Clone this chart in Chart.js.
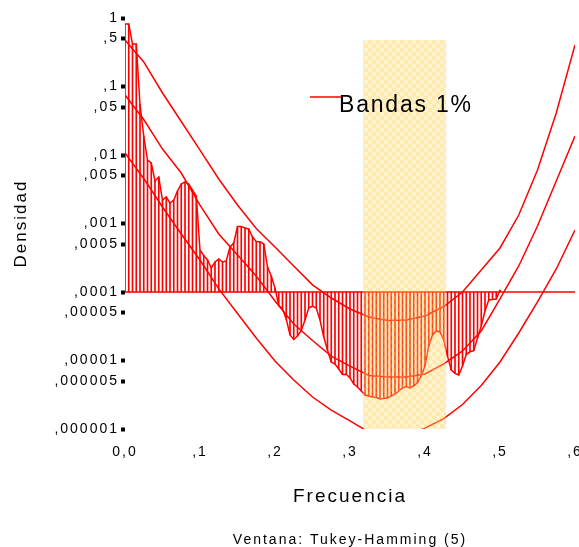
<!DOCTYPE html>
<html>
<head>
<meta charset="utf-8">
<script src="https://cdn.jsdelivr.net/npm/chart.js@4.4.1/dist/chart.umd.min.js"></script>
<style>
  html, body { margin: 0; padding: 0; background: #fff; }
  #wrap { width: 579px; height: 547px; position: relative; }
</style>
</head>
<body>
<div id="wrap"><canvas id="grafico"></canvas></div>
<script>
// Frecuencias del periodograma suavizado (paso 0,005)
const frecuencias = [
  0.000,0.005,0.010,0.015,0.020,0.025,0.030,0.035,0.040,0.045,
  0.050,0.055,0.060,0.065,0.070,0.075,0.080,0.085,0.090,0.095,
  0.100,0.105,0.110,0.115,0.120,0.125,0.130,0.135,0.140,0.145,
  0.150,0.155,0.160,0.165,0.170,0.175,0.180,0.185,0.190,0.195,
  0.200,0.205,0.210,0.215,0.220,0.225,0.230,0.235,0.240,0.245,
  0.250,0.255,0.260,0.265,0.270,0.275,0.280,0.285,0.290,0.295,
  0.300,0.305,0.310,0.315,0.320,0.325,0.330,0.335,0.340,0.345,
  0.350,0.355,0.360,0.365,0.370,0.375,0.380,0.385,0.390,0.395,
  0.400,0.405,0.410,0.415,0.420,0.425,0.430,0.435,0.440,0.445,
  0.450,0.455,0.460,0.465,0.470,0.475,0.480,0.485,0.490,0.495,
  0.500
];

// Densidad espectral estimada
const densidad = [
  8.17e-1, 8.17e-1, 4.17e-1, 4.17e-1, 5.5e-2, 1.89e-2, 8.45e-3, 7.64e-3, 4.17e-3, 4.77e-3,
  2.2e-3, 2.44e-3, 1.99e-3, 2.2e-3, 2.98e-3, 3.77e-3, 4.04e-3, 3.77e-3, 3.08e-3, 2.52e-3,
  4.1e-4, 3.41e-4, 2.93e-4, 2.24e-4, 2.74e-4, 3.03e-4, 2.74e-4, 2.84e-4, 4.54e-4, 5.19e-4,
  9.04e-4, 9.04e-4, 8.59e-4, 8.31e-4, 6.35e-4, 5.46e-4, 5.43e-4, 5.02e-4, 2.32e-4, 1.71e-4,
  1.14e-4, 6.35e-5, 5.65e-5, 4.03e-5, 2.36e-5, 2.03e-5, 2.28e-5, 2.74e-5, 3.9e-5, 5.84e-5,
  6.25e-5, 5.84e-5, 3.9e-5, 2.2e-5, 1.42e-5, 9.5e-6, 8.9e-6, 7.5e-6, 6.25e-6, 6.3e-6,
  5.56e-6, 4.54e-6, 4.1e-6, 3.59e-6, 3.13e-6, 3.03e-6, 2.93e-6, 2.88e-6, 2.74e-6, 2.79e-6,
  2.84e-6, 3.03e-6, 3.24e-6, 3.59e-6, 3.97e-6, 4.15e-6, 3.97e-6, 4.25e-6, 4.77e-6, 5.94e-6,
  8.3e-6, 1.63e-5, 2.36e-5, 2.7e-5, 2.61e-5, 1.99e-5, 1.16e-5, 7.27e-6, 6.5e-6, 6.14e-6,
  8.3e-6, 1.22e-5, 1.34e-5, 1.39e-5, 2.13e-5, 3.19e-5, 5.28e-5, 7.64e-5, 7.78e-5, 7.91e-5,
  1.07e-4
];

// Nivel de referencia desde el que se rayan las barras
const nivelBase = 1e-4;

// Frecuencias de las bandas de confianza (paso 0,025)
const frecBandas = [
  0.000,0.025,0.050,0.075,0.100,0.125,0.150,0.175,0.200,0.225,
  0.250,0.275,0.300,0.325,0.350,0.375,0.400,0.425,0.450,0.475,
  0.500,0.525,0.550,0.575,0.600
];
const bandaSuperior = [
  4.77e-1, 2.28e-1, 8.04e-2, 3.08e-2, 1.18e-2, 4.46e-3, 1.86e-3, 8.45e-4, 4.54e-4, 2.4e-4,
  1.27e-4, 8.17e-5, 5.65e-5, 4.32e-5, 3.84e-5, 3.9e-5, 4.47e-5, 6.14e-5, 1.0e-4, 2.09e-4,
  4.39e-4, 1.33e-3, 6.04e-3, 4.1e-2, 4.04e-1
];
const bandaCentral = [
  7.52e-2, 3.3e-2, 1.22e-2, 5.46e-3, 1.86e-3, 7.03e-4, 3.47e-4, 1.71e-4, 7.4e-5, 3.41e-5,
  1.96e-5, 1.16e-5, 8.3e-6, 6.04e-6, 5.74e-6, 5.74e-6, 6.35e-6, 8.9e-6, 1.38e-5, 2.7e-5,
  7.91e-5, 2.4e-4, 9.2e-4, 4.17e-3, 1.89e-2
];
const bandaInferior = [
  1.07e-2, 4.54e-3, 1.74e-3, 7.03e-4, 2.93e-4, 1.11e-4, 4.85e-5, 2.13e-5, 9.84e-6, 5.19e-6,
  2.93e-6, 1.89e-6, 1.31e-6, 9.04e-7, 7.9e-7, 8.17e-7, 1.03e-6, 1.42e-6, 2.28e-6, 4.31e-6,
  9.5e-6, 2.52e-5, 7.15e-5, 2.17e-4, 8.04e-4
];

// Intervalo de frecuencias resaltado y su altura
const zonaResaltada = [0.3173, 0.428];
const alturaZona = 0.477;

const yTicks = [1, 0.5, 0.1, 0.05, 0.01, 0.005, 0.001, 0.0005, 0.0001, 0.00005, 0.00001, 0.000005, 0.000001];
const yTickLabels = ['1', ',5', ',1', ',05', ',01', ',005', ',001', ',0005', ',0001', ',00005', ',00001', ',000005', ',000001'];
const xTickLabels = ['0,0', ',1', ',2', ',3', ',4', ',5', ',6'];

const ROJO = '#ff0000';
const FUENTE = "'Liberation Sans', Arial, sans-serif";

// Trama en damero amarilla semitransparente
function tramaAmarilla() {
  const c = document.createElement('canvas');
  c.width = 8; c.height = 8;
  const g = c.getContext('2d');
  g.fillStyle = 'rgba(255,218,100,0.32)';
  g.fillRect(0, 0, 8, 8);
  g.fillStyle = 'rgba(255,200,70,0.22)';
  g.fillRect(0, 0, 4, 4);
  g.fillRect(4, 4, 4, 4);
  return g.createPattern(c, 'repeat');
}

const espaciado = {
  id: 'espaciado',
  beforeLayout(chart) { chart.ctx.letterSpacing = '2px'; },
  beforeDraw(chart) { chart.ctx.letterSpacing = '2px'; }
};

// Leyenda de las bandas dibujada dentro del área del gráfico
const leyendaBandas = {
  id: 'leyendaBandas',
  afterDraw(chart) {
    const ctx = chart.ctx;
    const ds = chart.data.datasets.find(d => d.label === 'Bandas 1%');
    ctx.save();
    ctx.strokeStyle = ROJO;
    ctx.lineWidth = 1.5;
    ctx.beginPath();
    ctx.moveTo(310, 97);
    ctx.lineTo(343, 97);
    ctx.stroke();
    ctx.letterSpacing = '1.8px';
    ctx.font = '23px ' + FUENTE;
    ctx.fillStyle = '#000';
    ctx.textBaseline = 'alphabetic';
    ctx.fillText(ds.label, 339, 112);
    ctx.restore();
  }
};

const puntos = (xs, ys) => xs.map((x, i) => ({ x, y: ys[i] }));

const linea = (label, data, extra) => Object.assign({
  type: 'line', label, data,
  borderColor: ROJO, borderWidth: 1.5,
  pointRadius: 0, tension: 0, fill: false, order: 2
}, extra || {});

new Chart(document.getElementById('grafico'), {
  type: 'line',
  data: {
    datasets: [
      {
        type: 'line', label: 'Zona',
        data: [{ x: zonaResaltada[0], y: alturaZona }, { x: zonaResaltada[1], y: alturaZona }],
        borderWidth: 0, pointRadius: 0, fill: 'start',
        backgroundColor: tramaAmarilla(), order: 0
      },
      {
        type: 'bar', label: 'Rayado',
        data: frecuencias.map((x, i) => ({ x, y: [nivelBase, densidad[i]] })),
        backgroundColor: ROJO, borderWidth: 0, barThickness: 1, order: 3
      },
      linea('Densidad', puntos(frecuencias, densidad)),
      linea('Nivel', [{ x: 0, y: nivelBase }, { x: 0.6, y: nivelBase }]),
      linea('Bandas 1%', puntos(frecBandas, bandaSuperior)),
      linea('Central', puntos(frecBandas, bandaCentral)),
      linea('Inferior', puntos(frecBandas, bandaInferior))
    ]
  },
  options: {
    responsive: true,
    maintainAspectRatio: false,
    animation: false,
    layout: { padding: { top: 18, left: 0, right: 4, bottom: 0 } },
    plugins: {
      legend: { display: false },
      tooltip: { enabled: false },
      title: {
        display: true, position: 'bottom', fullSize: false,
        text: 'Ventana: Tukey-Hamming (5)',
        color: '#000',
        font: { family: FUENTE, size: 14, weight: 'normal', lineHeight: 1 },
        padding: { top: 0, bottom: 0 }
      }
    },
    scales: {
      x: {
        type: 'linear', min: 0, max: 0.6, offset: false,
        border: { display: false },
        grid: { display: false, offset: false, drawTicks: false },
        ticks: {
          stepSize: 0.1, autoSkip: false, maxRotation: 0, padding: 15,
          color: '#000', font: { family: FUENTE, size: 14 },
          callback: (v, i) => xTickLabels[i]
        },
        title: {
          display: true, text: 'Frecuencia', color: '#000',
          font: { family: FUENTE, size: 19 },
          padding: { top: 0, bottom: 25 }
        },
        afterFit(s) { s.height = 104; s.paddingLeft = 0; s.paddingRight = 0; }
      },
      y: {
        type: 'logarithmic', min: 1e-6, max: 1,
        border: { display: false },
        grid: {
          display: true, drawOnChartArea: false, drawTicks: true,
          tickLength: 4, tickWidth: 4, tickColor: '#000', color: '#000'
        },
        ticks: {
          autoSkip: false, padding: 2, color: '#000',
          font: { family: FUENTE, size: 14 },
          callback: (v, i) => yTickLabels[i]
        },
        afterBuildTicks(s) { s.ticks = yTicks.map(v => ({ value: v })); },
        title: {
          display: true, text: 'Densidad', color: '#000',
          font: { family: FUENTE, size: 17 },
          padding: { top: 11, bottom: 0 }
        },
        afterFit(s) { s.width = 125; s.paddingTop = 0; s.paddingBottom = 0; }
      }
    }
  },
  plugins: [espaciado, leyendaBandas]
});
</script>
</body>
</html>
